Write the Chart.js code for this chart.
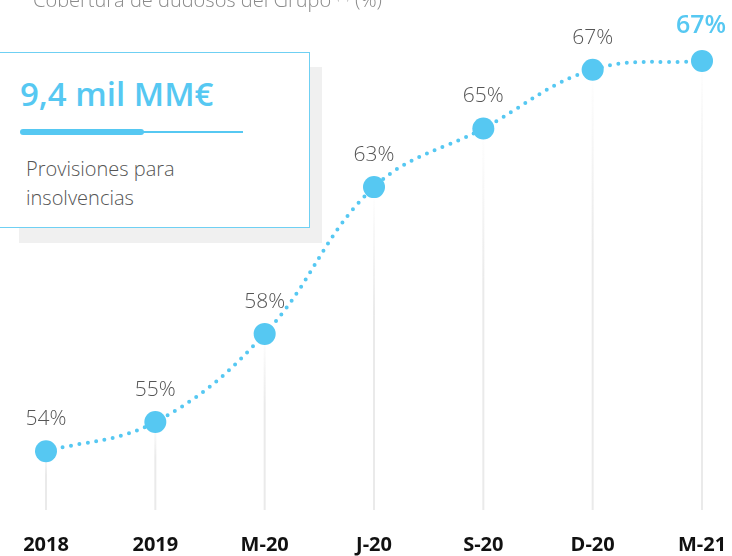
<!DOCTYPE html>
<html>
<head>
<meta charset="utf-8">
<script src="https://cdn.jsdelivr.net/npm/chart.js@4/dist/chart.umd.min.js"></script>
<style>
  html, body { margin: 0; padding: 0; background: #fff; }
  #wrap { position: relative; width: 732px; height: 556px; overflow: hidden; font-family: "Open Sans", sans-serif; }
  #chart { position: absolute; left: 0; top: 0; }
  #heading { position: absolute; left: 33px; top: -15px; font-size: 20px; line-height: 20px; font-weight: 300; color: #8a8a8a; white-space: nowrap; }
  #heading sup { font-size: 12px; }
  #shadow { position: absolute; left: 19px; top: 67px; width: 303px; height: 176px; background: #f0f0f0; }
  #card { position: absolute; left: -10px; top: 52px; width: 318px; height: 174px; background: #fff; border: 1.5px solid #6fd0f3; }
  #card .big { position: absolute; left: 29px; top: 18px; font-size: 33px; font-weight: 600; color: #56c8f2; white-space: nowrap; }
  #card .bar { position: absolute; left: 29px; top: 76px; width: 124px; height: 6px; border-radius: 3px; background: #56c8f2; }
  #card .thin { position: absolute; left: 140px; top: 78px; width: 112px; height: 1.5px; background: #56c8f2; }
  #card .sub { position: absolute; left: 35px; top: 101px; font-size: 20px; line-height: 29px; font-weight: 300; color: #555; }
</style>
</head>
<body>
<div id="wrap">
  <canvas id="chart" width="732" height="556"></canvas>
  <div id="heading">Cobertura de dudosos del Grupo <sup>(1)</sup> (%)</div>
  <div id="shadow"></div>
  <div id="card">
    <div class="big">9,4 mil MM€</div>
    <div class="thin"></div>
    <div class="bar"></div>
    <div class="sub">Provisiones para<br>insolvencias</div>
  </div>
</div>
<script>
// coverage ratio per period
const categories = ['2018', '2019', 'M-20', 'J-20', 'S-20', 'D-20', 'M-21'];
const coverage = [54, 55, 58, 63, 65, 67, 67.3];

const blue = '#56c8f2';
const stemGrey = '234,234,234';

// thin grey stems from each point down to the baseline, fading out at the top
const stemPlugin = {
    id: 'stems',
    beforeDatasetsDraw(chart) {
        const ctx = chart.ctx;
        const bottom = chart.chartArea.bottom;
        const pts = chart.getDatasetMeta(0).data;
        ctx.save();
        ctx.lineWidth = 2;
        pts.forEach(p => {
            const g = ctx.createLinearGradient(0, p.y, 0, bottom);
            g.addColorStop(0, 'rgba(' + stemGrey + ',0)');
            g.addColorStop(0.4, 'rgba(' + stemGrey + ',1)');
            g.addColorStop(1, 'rgba(' + stemGrey + ',1)');
            ctx.strokeStyle = g;
            ctx.beginPath();
            ctx.moveTo(p.x, p.y);
            ctx.lineTo(p.x, bottom);
            ctx.stroke();
        });
        ctx.restore();
    }
};

// percentage labels above each point, last one highlighted
const valueLabels = {
    id: 'valueLabels',
    afterDatasetsDraw(chart) {
        const ctx = chart.ctx;
        const pts = chart.getDatasetMeta(0).data;
        ctx.save();
        ctx.textAlign = 'center';
        ctx.textBaseline = 'alphabetic';
        pts.forEach((p, i) => {
            const txt = Math.round(coverage[i]) + '%';
            if (i === pts.length - 1) {
                ctx.font = '600 25px "Open Sans"';
                ctx.fillStyle = blue;
                ctx.fillText(txt, p.x - 1, p.y - 28);
            } else {
                ctx.font = '300 21px "Open Sans"';
                ctx.fillStyle = '#555';
                ctx.fillText(txt, p.x, p.y - 26);
            }
        });
        ctx.restore();
    }
};

const ctx = document.getElementById('chart').getContext('2d');
const myChart = new Chart(ctx, {
    type: 'line',
    data: {
        labels: categories,
        datasets: [{
            data: coverage,
            borderColor: blue,
            borderWidth: 4,
            borderDash: [0, 8.5],
            borderCapStyle: 'round',
            tension: 0.4,
            pointRadius: 11,
            pointHoverRadius: 11,
            pointBackgroundColor: blue,
            pointBorderWidth: 0
        }]
    },
    options: {
        responsive: false,
        animation: false,
        layout: { padding: { top: 9, left: 46, right: 30, bottom: 0 } },
        plugins: { legend: { display: false }, tooltip: { enabled: false } },
        scales: {
            x: {
                offset: false,
                grid: { display: true, drawOnChartArea: false, drawTicks: true, tickLength: 20, color: 'rgba(0,0,0,0)' },
                border: { display: false },
                ticks: {
                    color: '#111',
                    padding: 3,
                    maxRotation: 0,
                    font: { family: 'Open Sans', size: 20, weight: 'bold' }
                },
                afterFit(scale) { scale.height = 46; }
            },
            y: { display: false, min: 52, max: 69 }
        }
    },
    plugins: [stemPlugin, valueLabels]
});
</script>
</body>
</html>
